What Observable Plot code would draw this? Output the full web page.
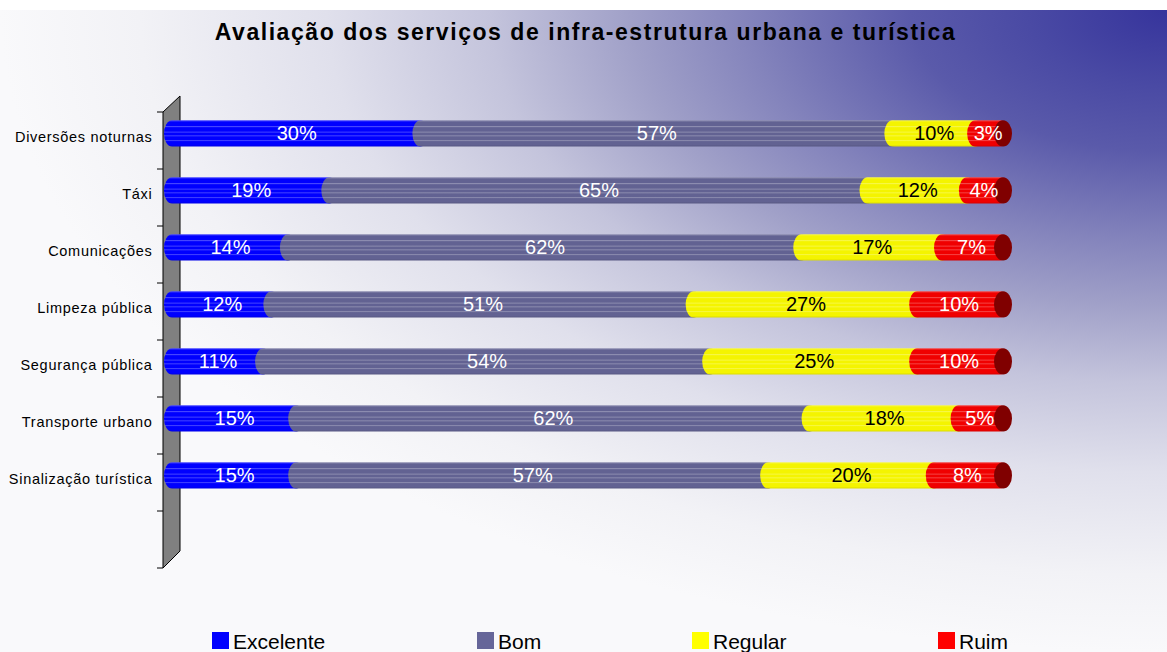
<!DOCTYPE html>
<html>
<head>
<meta charset="utf-8">
<script src="https://cdn.jsdelivr.net/npm/d3@7"></script>
<script src="https://cdn.jsdelivr.net/npm/@observablehq/plot@0.6"></script>
<style>
  body { margin: 0; background: #fff; font-family: "Liberation Sans", Arial, sans-serif; }
  #wrap {
    width: 1167px; height: 652px; box-sizing: border-box; border-top: 10px solid #fff;
    position: relative; overflow: hidden;
    background: radial-gradient(ellipse 1167px 642px at 100% 0%,
      #36349c 0%, #4a4aa4 12%, #5a5aaa 22%, #8484bc 36%, #a0a0c8 46%,
      #c4c4dc 58%, #e0e0ec 72%, #f2f2f6 88%, #f9f9fb 100%);
  }
  #title {
    height: 44px; line-height: 44px; text-align: center; font-weight: bold;
    font-size: 23px; letter-spacing: 1.55px; color: #000; padding-left: 4px; white-space: nowrap;
  }
  #chart svg { display: block; }
  #legend { position: relative; height: 32px; }
  .lg-sw { position: absolute; top: 12px; width: 17px; height: 17px; }
  .lg-tx { position: absolute; top: 11px; line-height: 21px; font-size: 21px; color: #000; white-space: nowrap; }
</style>
</head>
<body>
<div id="wrap">
  <div id="title">Avaliação dos serviços de infra-estrutura urbana e turística</div>
  <div id="chart"></div>
  <div id="legend"></div>
</div>
<script>
// ---- data ----
const categories = ["Diversões noturnas", "Táxi", "Comunicações", "Limpeza pública",
                    "Segurança pública", "Transporte urbano", "Sinalização turística"];
const series = ["Excelente", "Bom", "Regular", "Ruim"];
const excelente = [30, 19, 14, 12, 11, 15, 15];
const bom       = [57, 65, 62, 51, 54, 62, 57];
const regular   = [10, 12, 17, 27, 25, 18, 20];
const ruim      = [3, 4, 7, 10, 10, 5, 8];
const seriesColors = ["#0000ff", "#626292", "#f4f400", "#f00000"];
const legendColors = ["#0000ff", "#666699", "#ffff00", "#ff0000"];

const values = [excelente, bom, regular, ruim];
const rows = [];
categories.forEach((c, i) => values.forEach((arr, j) => rows.push({cat: c, series: series[j], value: arr[i]})));
const totals = categories.map((c, i) => ({cat: c, end: values.reduce((s, arr) => s + arr[i], 0)}));

const BLANK = " ";
const W = 1167, H = 566;
const bandGeom = {insetTop: 8.3, insetBottom: 22.4, insetLeft: -8, insetRight: -8, rx: 8, ry: 13.5};
const stackOpts = {x: "value", y: "cat", z: "series"};
const gradIds = series.map((s, i) => "grad" + i);

const plot = Plot.plot({
  width: W, height: H,
  marginLeft: 172, marginRight: 167, marginTop: 55, marginBottom: 49,
  style: {background: "transparent", fontFamily: "'Liberation Sans', Arial, sans-serif", overflow: "visible"},
  x: {domain: [0, 100], axis: null},
  y: {domain: [...categories, BLANK], padding: 0, axis: null},
  color: {domain: series, range: gradIds.map(id => `url(#${id})`)},
  marks: [
    Plot.barX(rows, Plot.stackX({...stackOpts, fill: "series", ...bandGeom})),
    Plot.barX(totals, {x1: "end", x2: "end", y: "cat", fill: "#800000", ariaLabel: "cap",
      insetTop: 8.3, insetBottom: 22.4, insetLeft: -6, insetRight: -12, rx: 9, ry: 13.5}),
    Plot.text(rows, Plot.stackX({...stackOpts, text: d => d.series === "Regular" ? "" : d.value + "%",
      fill: "white", fontSize: 20, dy: -7})),
    Plot.text(rows, Plot.stackX({...stackOpts, text: d => d.series === "Regular" ? d.value + "%" : "",
      fill: "black", fontSize: 20, dy: -7})),
    Plot.text(categories, {y: d => d, text: d => d, frameAnchor: "left", textAnchor: "end",
      dx: -20, dy: -4, fontSize: 14.5, fill: "black"})
  ]
});

const svg = d3.select(plot);
// letter spacing for category labels
svg.selectAll("text").filter(function () { return categories.includes(this.textContent); })
  .style("letter-spacing", "0.7px");

// defs: striped gradients per series
const defs = svg.insert("defs", ":first-child");
const stripeStops = [[0, 0.3], [0.07, 0], [0.2, 0], [0.24, 0.3], [0.28, 0], [0.41, 0], [0.45, 0.25], [0.49, 0],
  [0.55, 0], [0.59, 0.25], [0.63, 0], [0.73, 0], [0.77, 0.25], [0.81, 0], [0.92, 0], [1, -0.1]];
seriesColors.forEach((c, i) => {
  const g = defs.append("linearGradient").attr("id", gradIds[i]).attr("x1", 0).attr("y1", 0).attr("x2", 0).attr("y2", 1);
  stripeStops.forEach(([o, a]) => {
    const col = a >= 0 ? d3.interpolateRgb(c, "#fff")(a) : d3.interpolateRgb(c, "#000")(-a);
    g.append("stop").attr("offset", o).attr("stop-color", col);
  });
});

// skew the end caps
svg.selectAll('g[aria-label="cap"] rect')
  .style("transform-box", "fill-box").style("transform-origin", "center").style("transform", "skewX(-25deg)");

// 3D wall and ticks, positioned from the plot's scales
const xs = plot.scale("x"), ys = plot.scale("y");
const x0 = xs.apply(0);
const bw = ys.bandwidth;
const yTop = ys.apply(categories[0]);
const yBot = ys.apply(BLANK) + bw;
const wall = svg.insert("g", "g");
wall.append("polygon")
  .attr("points", [[x0 - 9, yTop], [x0 + 8, yTop - 16], [x0 + 8, yBot - 17], [x0 - 9, yBot]].map(p => p.join(",")).join(" "))
  .attr("fill", "#808080").attr("stroke", "#000").attr("stroke-width", 1);
[...categories, BLANK].forEach(c => {
  const yy = ys.apply(c);
  wall.append("line").attr("x1", x0 - 15).attr("x2", x0 - 9).attr("y1", yy).attr("y2", yy).attr("stroke", "#000");
});
wall.append("line").attr("x1", x0 - 15).attr("x2", x0 - 9).attr("y1", yBot).attr("y2", yBot).attr("stroke", "#000");

document.getElementById("chart").appendChild(plot);

// legend
const legendLeft = [212, 477, 692, 938];
const lg = document.getElementById("legend");
series.forEach((s, i) => {
  const sw = document.createElement("div");
  sw.className = "lg-sw"; sw.style.left = legendLeft[i] + "px";
  sw.style.background = legendColors[i];
  lg.appendChild(sw);
  const tx = document.createElement("span");
  tx.className = "lg-tx"; tx.style.left = (legendLeft[i] + 21) + "px"; tx.textContent = s;
  lg.appendChild(tx);
});
</script>
</body>
</html>
